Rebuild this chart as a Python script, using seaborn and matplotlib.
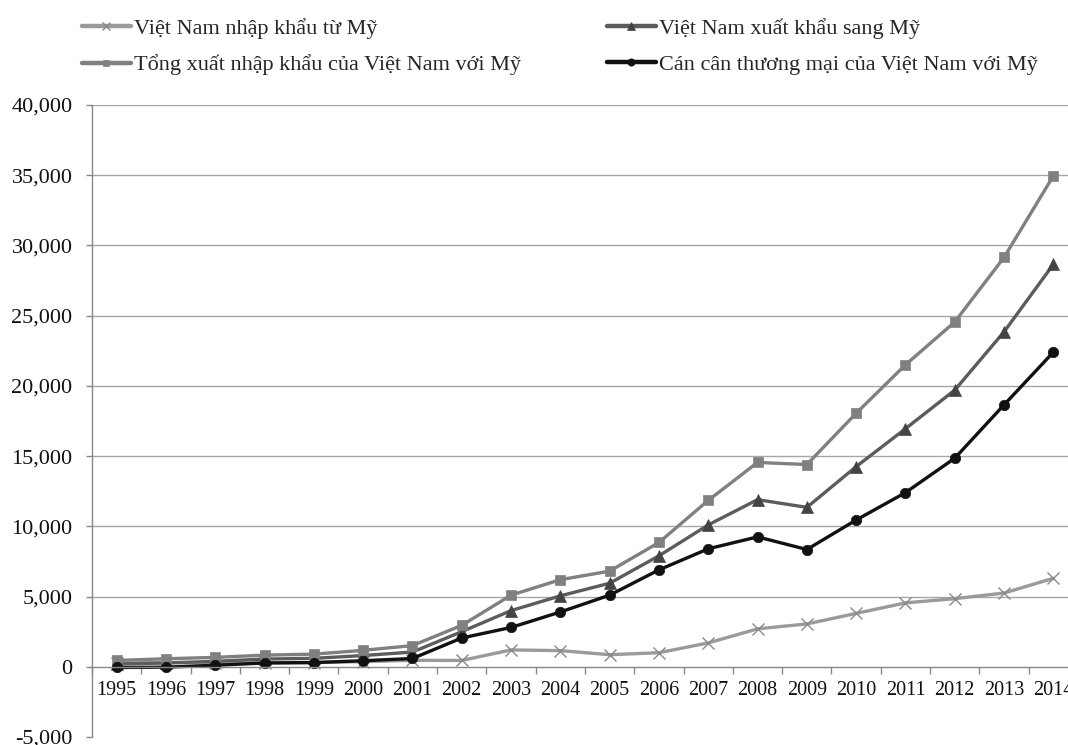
import matplotlib
matplotlib.use("Agg")
import matplotlib.pyplot as plt
import seaborn as sns
import pandas as pd
from matplotlib.ticker import FuncFormatter, FixedLocator

# Vietnam - US trade, million USD
years = list(range(1995, 2015))
imports_from_us = [250, 300, 280, 280, 300, 370, 460, 450, 1200, 1150,
                   860, 1000, 1700, 2700, 3050, 3800, 4550, 4850, 5250, 6300]
exports_to_us = [200, 270, 390, 550, 600, 800, 1050, 2500, 4000, 5050,
                 5950, 7900, 10100, 11900, 11350, 14250, 16950, 19700, 23850, 28650]
total_trade = [450, 570, 670, 830, 900, 1170, 1510, 2950, 5100, 6200,
               6810, 8850, 11850, 14550, 14400, 18050, 21500, 24550, 29150, 34950]
trade_balance = [-50, -30, 110, 270, 300, 430, 590, 2050, 2800, 3900,
                 5100, 6900, 8400, 9250, 8350, 10450, 12400, 14850, 18650, 22400]

series_names = [
    "Việt Nam nhập khẩu từ Mỹ",
    "Việt Nam xuất khẩu sang Mỹ",
    "Tổng xuất nhập khẩu của Việt Nam với Mỹ",
    "Cán cân thương mại của Việt Nam với Mỹ",
]
y_ticks = [-5000, 0, 5000, 10000, 15000, 20000, 25000, 30000, 35000, 40000]

sns.set_theme(style="white")
plt.rcParams["font.family"] = ["Liberation Serif", "DejaVu Serif"]

fig = plt.figure(figsize=(10.68, 7.45), dpi=100)
W, H = 1068, 745
ax = fig.add_axes([92 / W, (H - 737) / H, 986 / W, 632 / H])

styles = [
    (imports_from_us, "#9a9a9a", "x", 9, "#8a8a8a"),
    (exports_to_us, "#5c5c5c", "^", 8.5, "#444444"),
    (total_trade, "#808080", "s", 7, "#808080"),
    (trade_balance, "#111111", "o", 7.5, "#111111"),
]

handles = []
for name, (vals, color, marker, ms, mcolor) in zip(series_names, styles):
    df = pd.DataFrame({"year": years, "value": vals})
    sns.lineplot(data=df, x="year", y="value", ax=ax, color=color, linewidth=2.4,
                 marker=marker, markersize=ms, markerfacecolor=mcolor,
                 markeredgecolor=mcolor,
                 markeredgewidth=1.0 if marker == "x" else 0.5,
                 label=name, legend=False)
    handles.append(ax.lines[-1])

ax.set_xlim(1994.5, 2014.5)
ax.set_ylim(-5000, 40000)
ax.set_xlabel("")
ax.set_ylabel("")

# horizontal gridlines
for v in y_ticks:
    if v > 0:
        ax.axhline(v, color="#a6a6a6", linewidth=1.0, zorder=0)

for side in ["top", "right"]:
    ax.spines[side].set_visible(False)
ax.spines["left"].set_color("#888888")
ax.spines["left"].set_linewidth(1.0)
ax.spines["bottom"].set_position(("data", 0))
ax.spines["bottom"].set_color("#888888")
ax.spines["bottom"].set_linewidth(1.0)

ax.yaxis.set_major_locator(FixedLocator(y_ticks))
ax.yaxis.set_major_formatter(FuncFormatter(lambda v, p: f"{int(v):,}"))
ax.tick_params(axis="y", which="major", left=True, length=4, width=1,
               color="#888888", labelsize=16, pad=10, labelcolor="#111111")

ax.set_xticks(years)
ax.set_xticklabels([str(y) for y in years])
ax.set_xticks([y - 0.5 for y in years] + [2014.5], minor=True)
ax.tick_params(axis="x", which="major", bottom=False, length=0, labelsize=14.5,
               pad=10, labelcolor="#111111")
ax.tick_params(axis="x", which="minor", bottom=True, direction="out", length=5,
               width=1, color="#888888")

leg_kw = dict(frameon=False, fontsize=16, handlelength=2.2, handletextpad=0.15,
              labelspacing=0.7, borderaxespad=0, borderpad=0, numpoints=1,
              markerscale=0.7)
leg1 = fig.legend([handles[0], handles[2]], [series_names[0], series_names[2]],
                  loc="upper left", bbox_to_anchor=(82 / W, 1 - 18 / H), **leg_kw)
leg2 = fig.legend([handles[1], handles[3]], [series_names[1], series_names[3]],
                  loc="upper left", bbox_to_anchor=(607 / W, 1 - 18 / H), **leg_kw)
for leg in (leg1, leg2):
    for line in leg.get_lines():
        line.set_linewidth(3.2)

fig.savefig("out.png", dpi=100, facecolor="white")
